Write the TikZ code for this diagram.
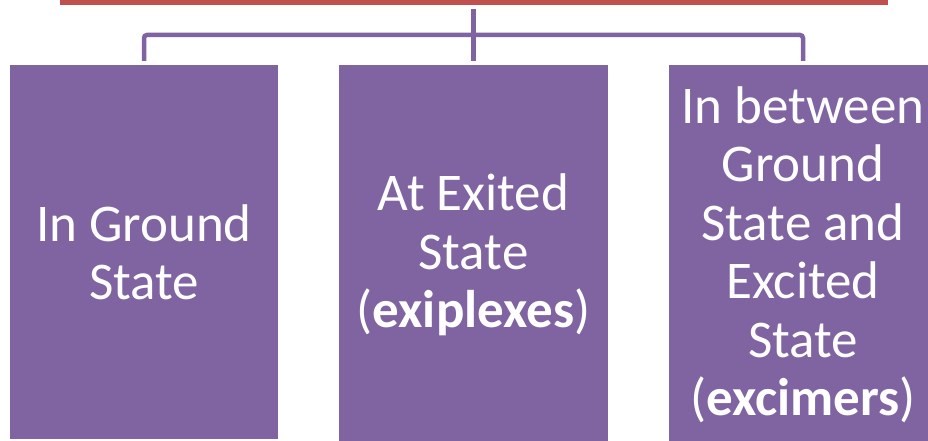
\documentclass[tikz,border=0pt]{standalone}
\usepackage{fontspec}
\setmainfont{Carlito}
\definecolor{boxpurple}{HTML}{8064A2}
\definecolor{barred}{HTML}{C0504D}
\tikzset{
  itembox/.style={fill=boxpurple, draw=none, inner sep=0pt, minimum width=268pt,
    text=white, align=center, font=\fontsize{53}{58.5}\selectfont, anchor=center},
  conn/.style={draw=boxpurple, line width=4.5pt},
  parentbar/.style={fill=barred, draw=none, minimum width=828pt, minimum height=20pt, inner sep=0pt}
}
\begin{document}
\begin{tikzpicture}[x=1pt, y=-1pt]
  \clip (0,0) rectangle (928,441);
  \node[parentbar] (top) at (474,-5.3) {};
  \node[itembox, minimum height=373.5pt] (b1) at (144,252.25) {In Ground\\State};
  \node[itembox, minimum width=269pt, minimum height=379pt] (b2) at (473.5,255) {\raisebox{-4pt}{\parbox{260pt}{\centering At Exited\\State\\(\textbf{exiplexes})}}};
  \node[itembox, minimum height=379pt] (b3) at (803,255) {In between\\Ground\\State and\\Excited\\State\\(\textbf{excimers})};
  \coordinate (j) at (473.5,35);
  \draw[conn] ([yshift=-4.3pt]top.south -| b2.north) -- ([yshift=4.5pt]b2.north);
  \draw[conn, rounded corners=3pt] ([yshift=4.5pt]b1.north) |- (j) -| ([yshift=4.5pt]b3.north);
\end{tikzpicture}
\end{document}
